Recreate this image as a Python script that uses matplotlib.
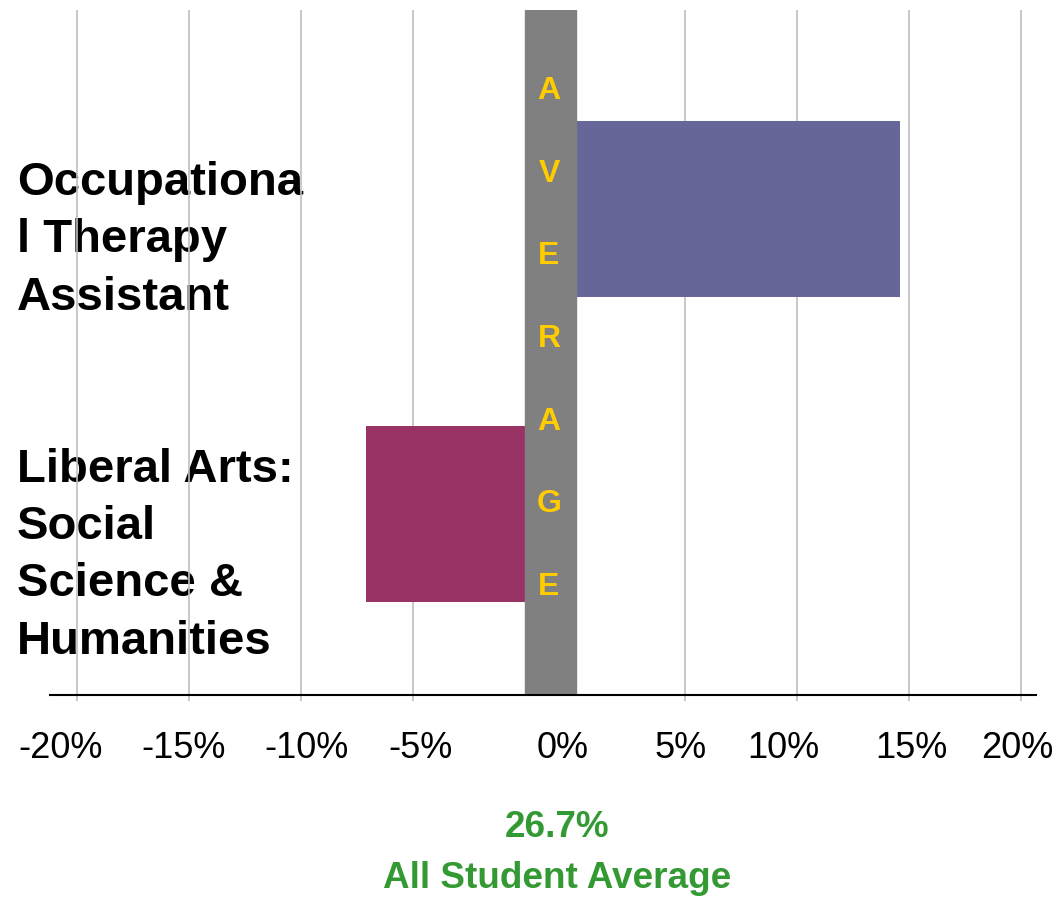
import matplotlib
matplotlib.use("Agg")
import matplotlib.pyplot as plt
import matplotlib.transforms as mtransforms

plt.rcParams['font.family'] = ['Liberation Sans', 'DejaVu Sans']

# data (percentage points vs. all-student average)
programs = ["Liberal Arts:\nSocial\nScience &\nHumanities",
            "Occupationa\nl Therapy\nAssistant"]
diffs = [-7.1, 14.6]
bar_colors = ["#993366", "#666699"]
tick_values = [-20, -15, -10, -5, 0, 5, 10, 15, 20]
tick_labels = ["-20%", "-15%", "-10%", "-5%", "0%", "5%", "10%", "15%", "20%"]
avg_value = "26.7%"
avg_label = "All Student Average"
avg_word = "AVERAGE"

# the grey "AVERAGE" column pushes the positive side to the right
GAP = 2.15        # shift of positive axis (data units)
BAND = 2.28       # width of grey band
label_x = [-20.75, -15.25, -9.75, -4.65, 1.70, 6.93, 11.52, 17.24, 22.0]

W, H = 1055, 899
fig = plt.figure(figsize=(W / 100, H / 100), dpi=100)
ax = fig.add_axes([50 / W, (H - 695) / H, 986 / W, 685 / H])

def pos(v):
    return v if v <= 0 else v + GAP

# bars
for i, (v, c) in enumerate(zip(diffs, bar_colors)):
    if v < 0:
        ax.barh(i, v, left=0, height=0.578, color=c, zorder=2)
    else:
        ax.barh(i, pos(v) - BAND, left=BAND, height=0.578, color=c, zorder=2)

tr = mtransforms.blended_transform_factory(ax.transData, ax.transAxes)

ax.axvspan(0, BAND, color="#808080", zorder=3)
for k, ch in enumerate(avg_word):
    ax.text(1.08, (695 - 99 - k * 82.7) / 685, ch, transform=tr,
            ha="center", va="baseline", fontsize=23, fontweight="bold", color="#FFCC00", zorder=4)

grid_pos = [pos(t) for t in tick_values if t != 0]
ax.set_xticks(grid_pos)
ax.set_xticklabels([])
ax.tick_params(axis="x", length=4, width=1.2, color="#BFBFBF", direction="out")
ax.tick_params(axis="y", left=False, labelleft=False)
ax.xaxis.grid(True, color="#BFBFBF", linewidth=1.2)
ax.set_axisbelow(True)

ax.set_xlim(-21.2, 22.82)
ax.set_ylim(-0.596, 1.654)
for s in ["top", "right", "left"]:
    ax.spines[s].set_visible(False)
ax.spines["bottom"].set_linewidth(1.5)
ax.spines["bottom"].set_color("black")
ax.spines["bottom"].set_zorder(3.5)

for x, lab in zip(label_x, tick_labels):
    ax.text(x, -54 / 685, lab, transform=tr, ha="center", va="center", fontsize=26, color="black")

# category labels (drawn beneath grid lines like the original)
first_baselines = [481.7, 195]
for lab, b in zip(programs, first_baselines):
    for j, line in enumerate(lab.split("\n")):
        ax.text(17 / W, 1 - (b + j * 57.3) / H, line, transform=fig.transFigure,
                ha="left", va="baseline", fontsize=34, fontweight="bold", color="black", zorder=0.1)

fig.text(557 / W, 1 - 837 / H, avg_value, ha="center", va="baseline", fontsize=26.6, fontweight="bold", color="#339933")
fig.text(557 / W, 1 - 888 / H, avg_label, ha="center", va="baseline", fontsize=26.6, fontweight="bold", color="#339933")

fig.savefig("out.png", dpi=100)
